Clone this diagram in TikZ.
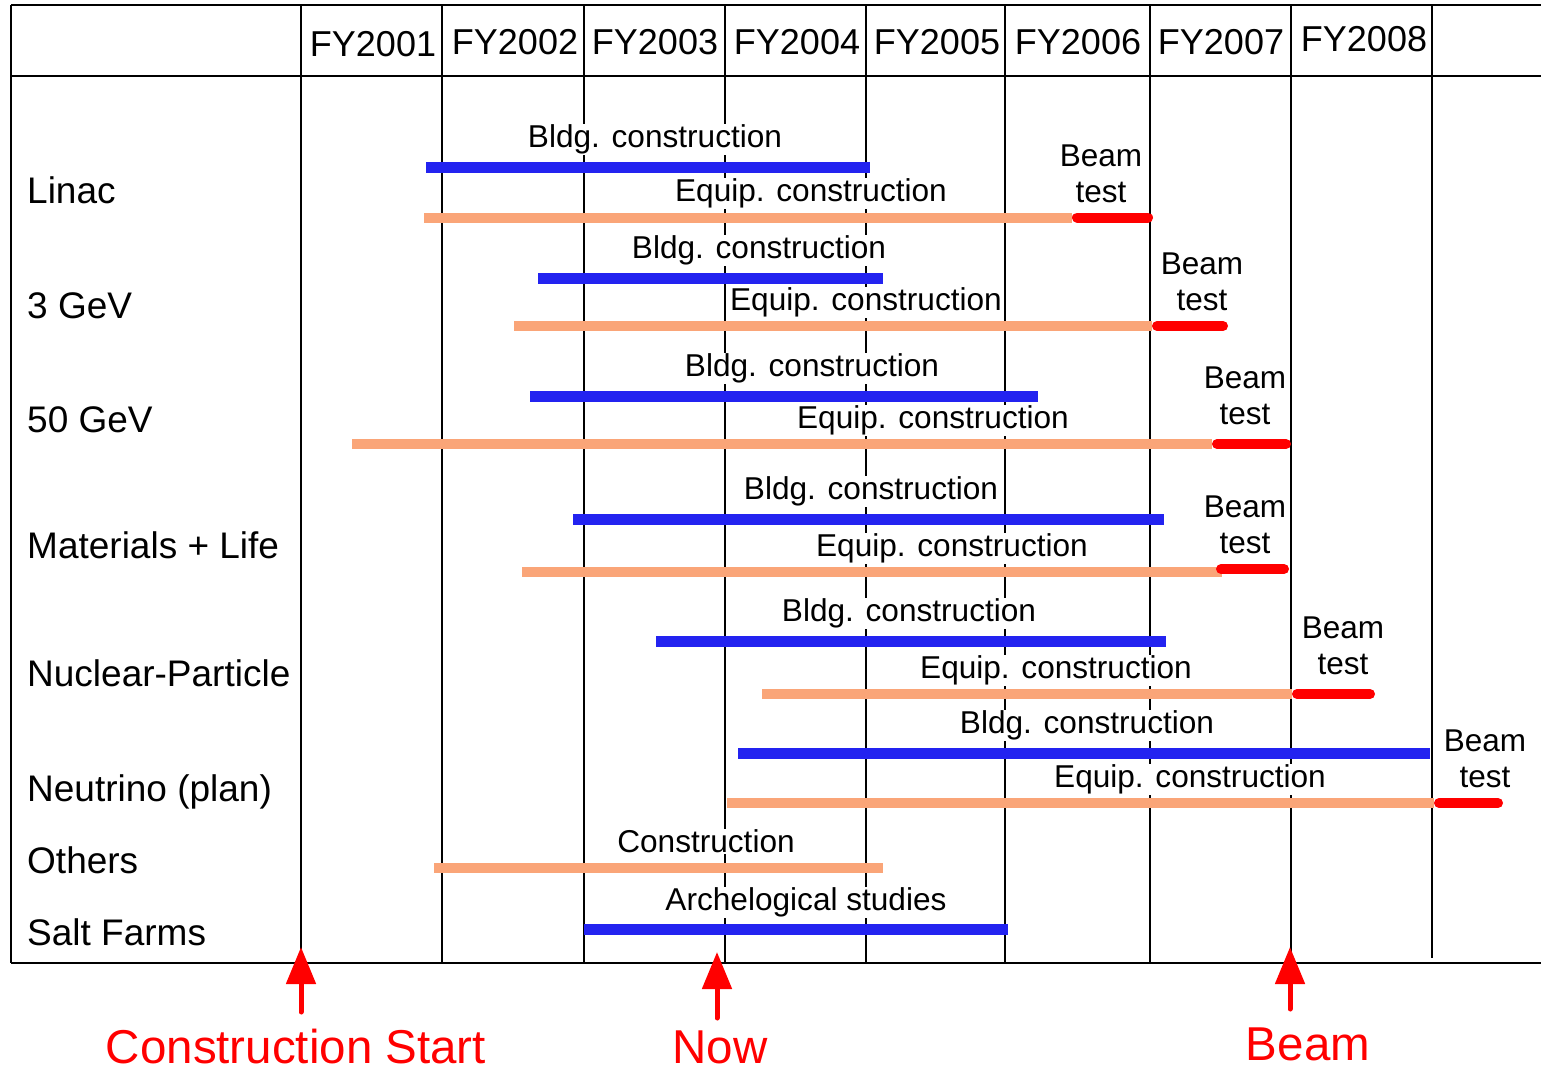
\documentclass[tikz,border=0pt]{standalone}
\usepackage{fontspec}
\setmainfont{Liberation Sans}
\usetikzlibrary{arrows.meta}
\definecolor{bluebar}{RGB}{35,35,240}
\definecolor{orangebar}{RGB}{250,165,120}
\definecolor{redbar}{RGB}{255,0,0}
\begin{document}
\begin{tikzpicture}[x=1pt,y=-1pt,
  gridline/.style={line width=2.5pt, black},
  bbar/.style={line width=11pt, bluebar},
  obar/.style={line width=10pt, orangebar},
  rbar/.style={line width=10pt, redbar, line cap=round},
  rowlab/.style={anchor=base west, inner sep=0pt, font=\fontsize{37}{38}\selectfont},
  hdr/.style={anchor=base, inner sep=0pt, font=\fontsize{36}{37}\selectfont},
  barlab/.style={anchor=base, fill=white, inner sep=1pt, font=\fontsize{31.6}{32}\selectfont},
  beamlab/.style={anchor=base, inner sep=0pt, font=\fontsize{31.5}{32}\selectfont},
  redlab/.style={anchor=base, inner sep=0pt, text=redbar, font=\fontsize{47.5}{48}\selectfont},
  redarrow/.style={redbar, line width=5pt, line cap=round, -{Triangle[width=29pt,length=37pt]}}
]
\useasboundingbox (0,0) rectangle (1541,1071);
\fill[white] (0,0) rectangle (1541,1071);

% table grid
\draw[gridline] (11,5) -- (1541,5);
\draw[gridline] (11,76) -- (1541,76);
\draw[gridline] (11,963) -- (1541,963);
\draw[gridline] (11,5) -- (11,963);
\foreach \x in {301,442,584,725,866,1005,1150,1291}
  \draw[gridline] (\x,5) -- (\x,963);
\draw[gridline] (1432,5) -- (1432,958);

% header
\node[hdr] (fy1) at (373,56) {FY2001};
\node[hdr] (fy2) at (515,54) {FY2002};
\node[hdr] (fy3) at (655,54) {FY2003};
\node[hdr] (fy4) at (797,54) {FY2004};
\node[hdr] (fy5) at (937,54) {FY2005};
\node[hdr] (fy6) at (1078,54) {FY2006};
\node[hdr] (fy7) at (1221,54) {FY2007};
\node[hdr] (fy8) at (1364,51) {FY2008};

% row labels
\node[rowlab] (rLinac) at (27,203) {Linac};
\node[rowlab] (rThree) at (27,318) {3 GeV};
\node[rowlab] (rFifty) at (27,432) {50 GeV};
\node[rowlab] (rMat) at (27,558) {Materials + Life};
\node[rowlab] (rNuc) at (27,686) {Nuclear-Particle};
\node[rowlab] (rNeu) at (27,801) {Neutrino (plan)};
\node[rowlab] (rOth) at (27,873) {Others};
\node[rowlab] (rSalt) at (27,945) {Salt Farms};

% Linac
\draw[bbar] (426,167.5) -- (870,167.5);
\draw[obar] (424,217.5) -- (1072,217.5);
\draw[rbar] (1077,217.5) -- (1148,217.5);
\node[barlab] (l1) at (655,147.5) {Bldg. construction};
\node[barlab] (l2) at (811,201.5) {Equip. construction};
\node[beamlab] (l3) at (1101,166.5) {Beam};
\node[beamlab] (l4) at (1101,202.5) {test};

% 3 GeV
\draw[bbar] (538,278) -- (883,278);
\draw[obar] (514,326) -- (1152,326);
\draw[rbar] (1157,326) -- (1223,326);
\node[barlab] (g1) at (759,258.5) {Bldg. construction};
\node[barlab] (g2) at (866,310.5) {Equip. construction};
\node[beamlab] (g3) at (1202,274.5) {Beam};
\node[beamlab] (g4) at (1202,310.5) {test};

% 50 GeV
\draw[bbar] (530,396) -- (1038,396);
\draw[obar] (352,444) -- (1212,444);
\draw[rbar] (1217,444) -- (1286,444);
\node[barlab] (f1) at (812,376.5) {Bldg. construction};
\node[barlab] (f2) at (933,428.5) {Equip. construction};
\node[beamlab] (f3) at (1245,388.5) {Beam};
\node[beamlab] (f4) at (1245,424.5) {test};

% Materials + Life
\draw[bbar] (573,519) -- (1164,519);
\draw[obar] (522,572) -- (1222,572);
\draw[rbar] (1221,569) -- (1284,569);
\node[barlab] (m1) at (871,499.5) {Bldg. construction};
\node[barlab] (m2) at (952,556.5) {Equip. construction};
\node[beamlab] (m3) at (1245,517.5) {Beam};
\node[beamlab] (m4) at (1245,553.5) {test};

% Nuclear-Particle
\draw[bbar] (656,641) -- (1166,641);
\draw[obar] (762,694) -- (1292,694);
\draw[rbar] (1297,694) -- (1370,694);
\node[barlab] (n1) at (909,621.5) {Bldg. construction};
\node[barlab] (n2) at (1056,678.5) {Equip. construction};
\node[beamlab] (n3) at (1343,638.5) {Beam};
\node[beamlab] (n4) at (1343,674.5) {test};

% Neutrino
\draw[bbar] (738,753) -- (1430,753);
\draw[obar] (727,803) -- (1434,803);
\draw[rbar] (1439,803) -- (1498,803);
\node[barlab] (u1) at (1087,733.5) {Bldg. construction};
\node[barlab] (u2) at (1190,787.5) {Equip. construction};
\node[beamlab] (u3) at (1485,751.5) {Beam};
\node[beamlab] (u4) at (1485,787.5) {test};

% Others
\draw[obar] (434,868) -- (883,868);
\node[barlab] (o1) at (706,852.5) {Construction};

% Salt Farms
\draw[bbar] (584,929) -- (1008,929);
\node[barlab] (s1) at (806,910.5) {Archelogical studies};

% milestones
\coordinate (csT) at (301,947);
\coordinate (csB) at (301,1012);
\coordinate (nowT) at (717,952);
\coordinate (nowB) at (717,1018);
\coordinate (bmT) at (1290,947);
\coordinate (bmB) at (1290,1009);
\draw[redarrow] (csB) -- (csT);
\draw[redarrow] (nowB) -- (nowT);
\draw[redarrow] (bmB) -- (bmT);
\node[redlab] (cs) at (296,1063) {Construction Start};
\node[redlab] (now) at (720,1063) {Now};
\node[redlab] (bm) at (1308,1060) {Beam};
\end{tikzpicture}
\end{document}
